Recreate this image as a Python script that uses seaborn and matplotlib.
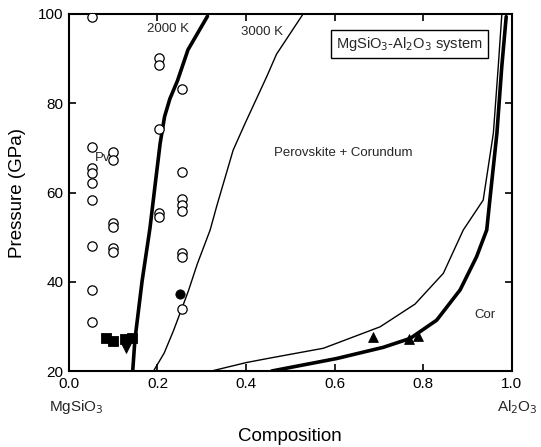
import matplotlib
matplotlib.use("Agg")
import matplotlib.pyplot as plt
import seaborn as sns
import pandas as pd

sns.set_theme(style="white")
plt.rcParams['font.family'] = ['Liberation Sans', 'DejaVu Sans']

# 2000 K boundary (thick) - Pv side
k2000_left_x = [0.144, 0.149, 0.165, 0.183, 0.195, 0.206, 0.216, 0.228, 0.245, 0.269, 0.313]
k2000_left_p = [20, 27, 40, 52, 62, 71, 77, 81, 85, 92, 99.5]
# 3000 K boundary (thin) - Pv side
k3000_left_x = [0.191, 0.215, 0.236, 0.255, 0.270, 0.290, 0.319, 0.334, 0.371, 0.398, 0.447, 0.469, 0.529]
k3000_left_p = [20, 24, 29, 34, 38, 44, 51.6, 57, 69.5, 75.5, 86, 91, 100]
# 2000 K boundary (thick) - Cor side
k2000_right_x = [0.458, 0.605, 0.710, 0.771, 0.831, 0.884, 0.921, 0.944, 0.951, 0.967, 0.978, 0.988]
k2000_right_p = [20, 22.8, 25.3, 27.3, 31.4, 38.2, 45.6, 51.6, 58.3, 73.3, 88.2, 99.4]
# 3000 K boundary (thin) - Cor side
k3000_right_x = [0.322, 0.401, 0.454, 0.575, 0.703, 0.782, 0.846, 0.891, 0.936, 0.959, 0.970, 0.978]
k3000_right_p = [20, 21.9, 22.9, 25.1, 29.9, 35.0, 41.9, 51.6, 58.3, 73.3, 88.2, 99.8]

# open circles
open_x = [0.053, 0.204, 0.204, 0.255, 0.204, 0.053, 0.099, 0.099, 0.053, 0.053, 0.053,
          0.053, 0.255, 0.255, 0.255, 0.255, 0.204, 0.204, 0.099, 0.099, 0.053, 0.099,
          0.099, 0.255, 0.255, 0.053, 0.053, 0.255]
open_p = [99.4, 90.1, 88.6, 83.2, 74.2, 70.3, 69.1, 67.3, 65.4, 64.3, 62.2,
          58.3, 64.7, 58.5, 57.2, 55.9, 55.3, 54.4, 53.2, 52.2, 48.1, 47.5,
          46.7, 46.5, 45.6, 38.2, 31.0, 33.9]
# filled circle
fcirc_x = [0.251]
fcirc_p = [37.2]
# filled squares
sq_x = [0.084, 0.100, 0.127, 0.142]
sq_p = [27.5, 26.7, 27.2, 27.5]
# filled inverted triangle
itri_x = [0.129]
itri_p = [25.1]
# filled triangles
tri_x = [0.686, 0.769, 0.789]
tri_p = [27.7, 27.1, 27.8]

fig = plt.figure(figsize=(5.41, 4.47), dpi=100)
ax = fig.add_axes([0.1275, 0.170, 0.818, 0.7987])

for xs, ps, lw in [(k2000_left_x, k2000_left_p, 2.6), (k3000_left_x, k3000_left_p, 1.0),
                   (k2000_right_x, k2000_right_p, 2.6), (k3000_right_x, k3000_right_p, 1.0)]:
    sns.lineplot(x=xs, y=ps, sort=False, estimator=None, color="black", lw=lw, ax=ax)

sns.scatterplot(x=open_x, y=open_p, marker="o", s=45, facecolor="white", edgecolor="black",
                linewidth=0.9, ax=ax, zorder=3)
sns.scatterplot(x=fcirc_x, y=fcirc_p, marker="o", s=45, color="black", edgecolor="black", ax=ax, zorder=3)
sns.scatterplot(x=sq_x, y=sq_p, marker="s", s=55, color="black", edgecolor="black", ax=ax, zorder=3)
sns.scatterplot(x=itri_x, y=itri_p, marker="v", s=50, color="black", edgecolor="black", ax=ax, zorder=3)
sns.scatterplot(x=tri_x, y=tri_p, marker="^", s=50, color="black", edgecolor="black", ax=ax, zorder=3)

ax.set_xlim(0, 1)
ax.set_ylim(20, 100)
ax.set_xticks([0.0, 0.2, 0.4, 0.6, 0.8, 1.0])
ax.set_xticklabels(["0.0", "0.2", "0.4", "0.6", "0.8", "1.0"])
ax.set_yticks([20, 40, 60, 80, 100])
ax.tick_params(direction="in", length=5, width=1.2, colors="black", labelsize=11,
               top=True, right=True, bottom=True, left=True, pad=4)
for sp in ax.spines.values():
    sp.set_color("black")
    sp.set_linewidth(1.5)

ax.set_ylabel("Pressure (GPa)", fontsize=13.5, color="black", labelpad=8.5)
ax.set_xlabel("Composition", fontsize=13.5, color="black", labelpad=27)

ax.text(0.224, 96.6, "2000 K", fontsize=9.5, ha="center", va="center")
ax.text(0.436, 96.0, "3000 K", fontsize=9.5, ha="center", va="center")
ax.text(0.076, 67.7, "Pv", fontsize=9.5, ha="center", va="center")
ax.text(0.62, 68.9, "Perovskite + Corundum", fontsize=9.5, ha="center", va="center")
ax.text(0.94, 32.5, "Cor", fontsize=9.5, ha="center", va="center")
ax.text(0.77, 93.3, r"MgSiO$_3$-Al$_2$O$_3$ system", fontsize=10.5, ha="center", va="center",
        bbox=dict(boxstyle="square,pad=0.35", facecolor="white", edgecolor="black", linewidth=1))

ax.text(-0.045, -0.1, r"MgSiO$_3$", transform=ax.transAxes, fontsize=11, ha="left", va="center")
ax.text(1.06, -0.1, r"Al$_2$O$_3$", transform=ax.transAxes, fontsize=11, ha="right", va="center")

fig.savefig("out.png", dpi=100)
